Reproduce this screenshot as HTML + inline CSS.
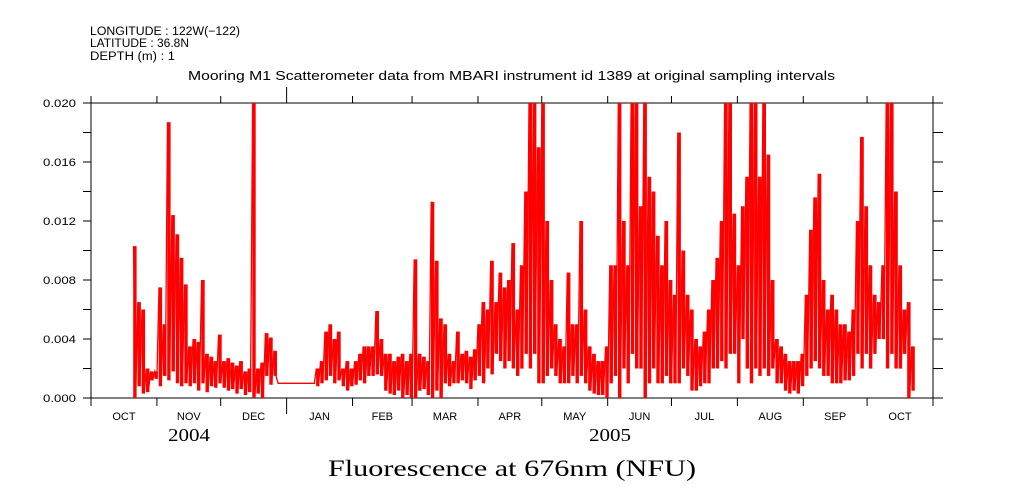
<!DOCTYPE html>
<html><head><meta charset="utf-8"><style>
html,body{margin:0;padding:0;background:#fff;}
svg{display:block;font-family:"Liberation Sans",sans-serif;}
</style></head><body>
<svg id="chart" width="1009" height="504" viewBox="0 0 1009 504" xmlns="http://www.w3.org/2000/svg">
<g font-size="11.5" fill="#000">
<text x="90" y="35" textLength="150" lengthAdjust="spacingAndGlyphs">LONGITUDE : 122W(−122)</text>
<text x="90" y="47" textLength="99" lengthAdjust="spacingAndGlyphs">LATITUDE : 36.8N</text>
<text x="90" y="60" textLength="85" lengthAdjust="spacingAndGlyphs">DEPTH (m) : 1</text>
<text x="188" y="80" font-size="12.5" textLength="647" lengthAdjust="spacingAndGlyphs">Mooring M1 Scatterometer data from MBARI instrument id 1389 at original sampling intervals</text>
</g>
<g id="axes"></g>
<g id="series"></g>
<text x="168" y="441" font-size="18" font-family="Liberation Serif, serif" textLength="42" lengthAdjust="spacingAndGlyphs">2004</text>
<text x="589" y="441" font-size="18" font-family="Liberation Serif, serif" textLength="42" lengthAdjust="spacingAndGlyphs">2005</text>
<text x="328" y="476" font-size="23" font-family="Liberation Serif, serif" textLength="368" lengthAdjust="spacingAndGlyphs">Fluorescence at 676nm (NFU)</text>
</svg>
<script>
// data: day offset since 2004-10-01, values in units of 0.001 NFU
const days = [20,22,24,26,28,30,32,34,36,38,40,42,44,46,48,50,52,54,56,58,60,62,64,66,68,70,72,74,76,78,80,82,84,86,88,90,92,94,96,98,100,102,104,106,108,110,112,114,116,118,120,122,124,126,128,130,132,134,136,138,140,142,144,146,148,150,152,154,156,158,160,162,164,166,168,170,172,174,176,178,180,182,184,186,188,190,192,194,196,198,200,202,204,206,208,210,212,214,216,218,220,222,224,226,228,230,232,234,236,238,240,242,244,246,248,250,252,254,256,258,260,262,264,266,268,270,272,274,276,278,280,282,284,286,288,290,292,294,296,298,300,302,304,306,308,310,312,314,316,318,320,322,324,326,328,330,332,334,336,338,340,342,344,346,348,350,352,354,356,358,360,362,364,366,368,370,372,374,376,378,380,382,384,386];
const hiVals = [10.3,6.5,6,2,1.8,1.8,7.5,5,18.7,12.4,11.1,9.5,7.7,3.5,4,3.8,8.0,3,2.8,2.5,4.3,2.5,2.7,2.4,2.2,2.5,1.8,2.0,20,2,2.4,4.4,4.1,3.2,1.0,1.0,1.0,1.0,1.0,1.0,1.0,1.0,1.0,2.0,2.5,4.5,5.0,4.0,4.5,2.0,2.5,2.0,2.5,3.0,3.5,3.5,3.5,5.9,4.0,3.0,3.0,2.5,2.8,3.0,2.5,3,9.4,3.0,2.8,2.5,13.3,9.3,5.4,5.0,3.0,2.5,4.5,3.0,3.2,2.8,3.3,5.0,6.5,6.0,9.3,6.5,8.5,7.5,8.0,10.5,6,9,14,20,20,17,20,12,8,5,4,3.5,8.5,5,5,12,6,3.5,3.0,2.5,2.5,3.5,9.0,9.0,20,12,9,20,20,13,20,15,14,11,9,12,8,7,18,10,7,6,4,3.5,4.5,6,8,9.5,12,20,20,12.5,9,13,15,20,20,15,20,16.5,8,4,3.5,3,2.5,2.5,2.5,3,7,11.4,13.6,15.2,8,6,7,6,5,5,4.5,6,12,17.7,13,9,7,6.5,9,20,20,14,9,6,6.5,3.5];
const loVals = [0,0.8,0.3,0.4,1.2,1.3,0.8,1.5,1.2,1.8,1.0,0.8,1.0,0.8,1,0.5,1,0.4,0.8,0.7,1.0,0.7,0.5,0.6,0.3,0.6,0.2,0.4,0,0.3,0,1.5,0.9,1.5,1.0,1.0,1.0,1.0,1.0,1.0,1.0,1.0,1.0,0.8,1.0,1.2,1.5,1.0,1.2,0.8,0.5,0.8,0.9,1.2,1.0,1.5,1.5,1.6,1.5,0.5,0.3,0.2,0.5,0,0.2,0,0,0.5,0.6,0.2,0,0.5,0,1.0,0.8,1.0,1.0,1.2,1.0,0.6,1.2,1.5,1.0,2.0,1.6,3.0,2.5,2.0,2.5,2.0,1.5,2,3,2,3,1,1,1.5,2,1.5,1.0,1.0,1.0,1.5,1.0,1.5,1.0,0.5,0.3,0.2,0.2,0,1.0,1.5,0,2,1,3,2,2,0,1,2,1,1,1.5,1,1,1,2,1.5,0.5,0.5,0.8,1,1,2,2,2.5,2,3,3,1,4,2,1,2,1.5,2,1.5,2,1,1.0,0.5,0.3,0.5,0.3,0.8,1.5,2,2.5,2,1.5,1.5,1,1,1,1.2,1.2,1.5,3,2,3,2,3,4,4,2,3,2,2,3,0,0.5];
const yTickVals = [0,2,4,6,8,10,12,14,16,18,20];
const yLabelVals = [0,4,8,12,16,20];
const monthLabels = ["OCT","NOV","DEC","JAN","FEB","MAR","APR","MAY","JUN","JUL","AUG","SEP","OCT"];
const monthStartDays = [0,31,61,92,123,151,182,212,243,273,304,335,365,396];

const NS="http://www.w3.org/2000/svg";
const X0=91,X1=933,Y0=398,Y1=103,DMAX=396,VMAX=20;
function xs(d){return X0+d*(X1-X0)/DMAX;}
function ys(v){return Y0-Math.min(v,VMAX)*(Y0-Y1)/VMAX;}
function mk(tag,attrs,parent){const e=document.createElementNS(NS,tag);for(const k in attrs)e.setAttribute(k,attrs[k]);parent.appendChild(e);return e;}
const ax=document.getElementById('axes');
const st={stroke:"#000","stroke-width":1};
let e;
e=mk('line',Object.assign({x1:X0,y1:Y0,x2:943,y2:Y0},st),ax);


e=mk('line',Object.assign({x1:X0,y1:Y1,x2:938,y2:Y1},st),ax);


e=mk('line',Object.assign({x1:X0,y1:Y1,x2:X0,y2:Y0},st),ax);


e=mk('line',Object.assign({x1:X1,y1:Y1,x2:X1,y2:Y0},st),ax);


yTickVals.forEach(v=>{
  e=mk('line',Object.assign({x1:X0-8,y1:ys(v),x2:X0,y2:ys(v)},st),ax);
  
  
  e=mk('line',Object.assign({x1:X1,y1:ys(v),x2:X1+10,y2:ys(v)},st),ax);
  
  
});
yLabelVals.forEach(v=>{
  e=mk('text',{x:X0-48,y:ys(v)+4,"font-size":"11",textLength:"33",lengthAdjust:"spacingAndGlyphs"},ax);
  e.textContent=(v/1000).toFixed(3);
  
  
});
monthStartDays.forEach((d,i)=>{
  const big=(d===92);
  e=mk('line',Object.assign({x1:xs(d),y1:Y0,x2:xs(d),y2:Y0+(big?16:8)},st),ax);
  
  
  e=mk('line',Object.assign({x1:xs(d),y1:Y1,x2:xs(d),y2:Y1-(big?16:7)},st),ax);
  
  
  if(i<monthLabels.length){
    const mid=(d+monthStartDays[i+1])/2;
    e=mk('text',{x:xs(mid),y:420,"text-anchor":"middle","font-size":"11"},ax);
    e.textContent=monthLabels[i];
    
    
  }
});
const sg=document.getElementById('series');
days.forEach((d,i)=>{
  const top=ys(hiVals[i]), bot=ys(loVals[i]);
  e=mk('rect',{x:(xs(d)-0.3).toFixed(1),y:top.toFixed(1),width:3.4,height:Math.max(0.5,bot-top).toFixed(1),fill:"#ff0000"},sg);
  
  
});
let pts=[];
days.forEach((d,i)=>{pts.push(xs(d).toFixed(1)+","+ys(hiVals[i]).toFixed(1));pts.push(xs(d+1).toFixed(1)+","+ys(loVals[i]).toFixed(1));});
e=mk('polyline',{points:pts.join(" "),fill:"none",stroke:"#ff0000","stroke-width":1.3,"stroke-linejoin":"miter"},sg);


</script>
</body></html>
